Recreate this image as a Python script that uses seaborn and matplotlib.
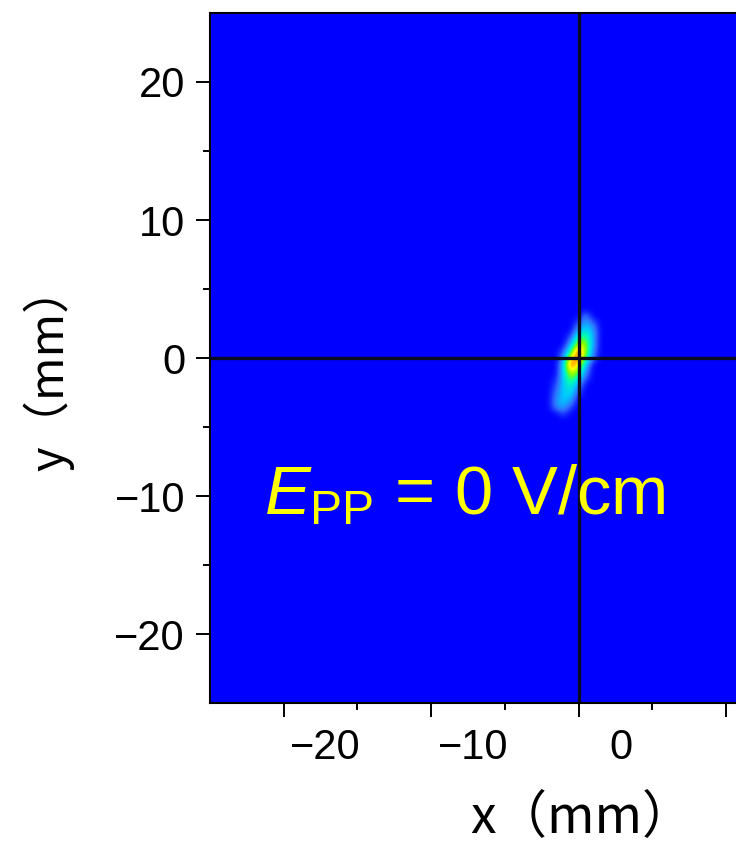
import numpy as np
import matplotlib
matplotlib.use("Agg")
import matplotlib.pyplot as plt
from matplotlib.ticker import FixedLocator
from matplotlib.transforms import ScaledTranslation
import seaborn as sns

# ---- data ----
x_centers = [-2.0, -1.5, -1.0, -0.5, 0.0, 0.5, 1.0, 1.5]          # mm
y_centers = [3.5, 3.0, 2.5, 2.0, 1.5, 1.0, 0.5, 0.0, -0.5, -1.0,
             -1.5, -2.0, -2.5, -3.0, -3.5, -4.0, -4.5]              # mm
intensity = [
    [0, 0, 0, 0, 0, 0, 0, 0],
    [0, 0, 0, 0, 0, 0.20, 0, 0],
    [0, 0, 0, 0, 0.10, 0.25, 0.15, 0],
    [0, 0, 0, 0, 0.25, 0.35, 0.25, 0],
    [0, 0, 0, 0.10, 0.45, 0.50, 0.25, 0],
    [0, 0, 0, 0.25, 0.65, 0.60, 0.25, 0],
    [0, 0, 0.10, 0.45, 0.95, 0.60, 0.20, 0],
    [0, 0, 0.20, 0.75, 0.90, 0.50, 0.15, 0],
    [0, 0, 0.30, 0.95, 0.70, 0.30, 0, 0],
    [0, 0, 0.30, 0.70, 0.55, 0.20, 0, 0],
    [0, 0.05, 0.30, 0.55, 0.35, 0.10, 0, 0],
    [0, 0.10, 0.30, 0.40, 0.20, 0, 0, 0],
    [0, 0.15, 0.30, 0.35, 0.10, 0, 0, 0],
    [0, 0.20, 0.30, 0.25, 0, 0, 0, 0],
    [0, 0.20, 0.25, 0.10, 0, 0, 0, 0],
    [0, 0, 0.10, 0, 0, 0, 0, 0],
    [0, 0, 0, 0, 0, 0, 0, 0],
]
x_ticks = [-20, -10, 0, 10]
x_tick_labels = ["\u221220", "\u221210", "0", ""]
x_minor = [-15, -5, 5, 15]
y_ticks = [-20, -10, 0, 10, 20]
y_minor = [-15, -5, 5, 15]
x_label = "x（mm）"
y_label = "y（mm）"
annotation = r"$E_{\mathrm{PP}}$ = 0 V/cm"

# ---- style ----
sns.set_theme(style="ticks")
plt.rcParams["font.family"] = ["Liberation Sans", "DejaVu Sans"]
plt.rcParams["mathtext.fontset"] = "custom"
plt.rcParams["mathtext.rm"] = "Liberation Sans"
plt.rcParams["mathtext.it"] = "Liberation Sans:italic"
plt.rcParams["axes.unicode_minus"] = True
plt.rcParams["text.color"] = "black"
plt.rcParams["axes.labelcolor"] = "black"

cmap = sns.blend_palette(["#0000ff", "#2f6dff", "#00c8ff", "#00ffb0",
                          "#80ff00", "#ffff00", "#ff8000", "#ff0000"],
                         as_cmap=True)

fig = plt.figure(figsize=(7.36, 8.47), dpi=100)
W, H = 736, 847
ax = fig.add_axes([210 / W, (H - 703) / H, 737 / W, 690 / H])
ax.set_facecolor(cmap(0.0))

dx = x_centers[1] - x_centers[0]
dy = y_centers[0] - y_centers[1]
extent = (x_centers[0] - dx / 2, x_centers[-1] + dx / 2,
          y_centers[-1] - dy / 2, y_centers[0] + dy / 2)
ax.imshow(np.array(intensity), cmap=cmap, vmin=0, vmax=1, extent=extent,
          origin="upper", interpolation="bicubic", aspect="auto", zorder=1)

ax.axvline(0, color="#0a0a20", lw=2.4, zorder=3)
ax.axhline(0, color="#0a0a20", lw=2.4, zorder=3)

ax.set_xlim(-25, 25)
ax.set_ylim(-25, 25)
ax.set_xticks(x_ticks)
ax.set_xticklabels(x_tick_labels)
ax.set_yticks(y_ticks)
ax.xaxis.set_minor_locator(FixedLocator(x_minor))
ax.yaxis.set_minor_locator(FixedLocator(y_minor))
ax.tick_params(which="major", length=10, width=1.4, color="black",
               labelsize=30, pad=8, labelcolor="black")
ax.tick_params(which="minor", length=5, width=1.4, color="black")
for sp in ax.spines.values():
    sp.set_linewidth(1.5)
    sp.set_color("black")
    sp.set_zorder(4)

# x tick labels in the reference sit to the right of their ticks
off = ScaledTranslation(42 / 100, 0, fig.dpi_scale_trans)
for lab in ax.get_xticklabels():
    lab.set_transform(lab.get_transform() + off)

ax.set_xlabel(x_label, fontsize=37, color="black",
              family=["Noto Sans CJK JP", "DejaVu Sans"])
ax.set_ylabel(y_label, fontsize=34, color="black",
              family=["Noto Sans CJK JP", "DejaVu Sans"])
ax.xaxis.set_label_coords(0.505, (703 - 792) / 690)
ax.yaxis.set_label_coords((74 - 210) / 737, (703 - 368) / 690)

ax.text((262 - 577) / 14.75, (357 - 514) / 13.875, annotation,
        color="#ffff00", fontsize=49.5, ha="left", va="baseline", zorder=5)

fig.savefig("out.png", dpi=100)
